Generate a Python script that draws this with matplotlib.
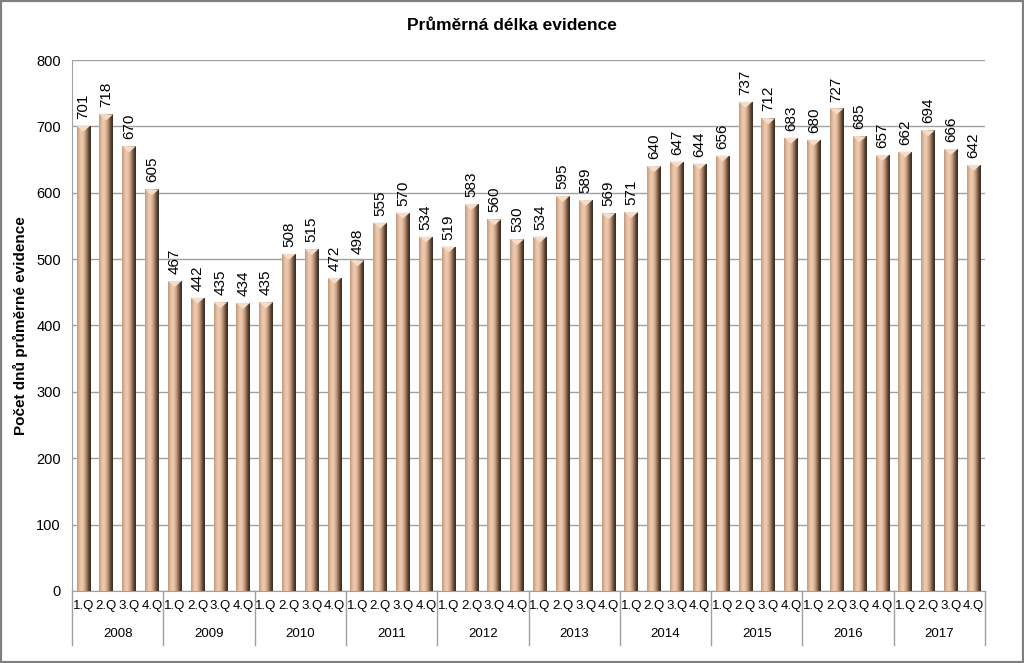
import numpy as np
import matplotlib
matplotlib.use('Agg')
import matplotlib.pyplot as plt
import matplotlib.transforms as mtransforms
from matplotlib.colors import LinearSegmentedColormap
from matplotlib.patches import Rectangle

plt.rcParams['font.family'] = ['Liberation Sans', 'DejaVu Sans']

years = ['2008', '2009', '2010', '2011', '2012', '2013', '2014', '2015', '2016', '2017']
quarters = ['1.Q', '2.Q', '3.Q', '4.Q']
values = [701, 718, 670, 605,
          467, 442, 435, 434,
          435, 508, 515, 472,
          498, 555, 570, 534,
          519, 583, 560, 530,
          534, 595, 589, 569,
          571, 640, 647, 644,
          656, 737, 712, 683,
          680, 727, 685, 657,
          662, 694, 666, 642]

title = 'Průměrná délka evidence'
ylabel = 'Počet dnů průměrné evidence'

fig = plt.figure(figsize=(10.24, 6.63), dpi=100)
ax = fig.add_axes([0.0703, 0.1086, 0.8917, 0.8009])

# cylinder-like shading across each bar
cyl = LinearSegmentedColormap.from_list(
    'cyl', ['#bf9a80', '#ddb497', '#efcdb3', '#e9c3a5', '#cfa587',
            '#9c7860', '#5a4536', '#35291f'])
grad = np.linspace(0, 1, 64).reshape(1, -1)

x = np.arange(len(values))
width = 0.6
bars = ax.bar(x, values, width=width, color='none', edgecolor='none', zorder=3)
for b in bars:
    x0, w, h = b.get_x(), b.get_width(), b.get_height()
    im = ax.imshow(grad, cmap=cyl, aspect='auto', extent=[x0, x0 + w, 0, h],
                   zorder=3, interpolation='bicubic')
    im.set_clip_path(b)
    # light cap on top
    ax.fill([x0, x0 + w, x0 + w * 0.5], [h, h, h - 9], color='#f4dcc8',
            edgecolor='none', zorder=4)

for xi, v in zip(x, values):
    ax.annotate(str(v), (xi, v), xytext=(0, 5), textcoords='offset points',
                rotation=90, ha='center', va='bottom', fontsize=11, zorder=5)

ax.set_xlim(-0.5, len(values) - 0.5)
ax.set_ylim(0, 800)
ax.set_yticks(range(0, 801, 100))
ax.tick_params(axis='y', length=0, labelsize=10.5, pad=8)
ax.set_xticks([])
ax.yaxis.grid(True, color='#a0a0a0', linewidth=1)
ax.set_axisbelow(True)
for s in ['top', 'right']:
    ax.spines[s].set_visible(False)
ax.spines['left'].set_color('#a0a0a0')
ax.spines['bottom'].set_color('#a0a0a0')

ax.set_ylabel(ylabel, fontsize=11, fontweight='bold', labelpad=6)

trans = mtransforms.blended_transform_factory(ax.transData, ax.transAxes)
for i, yr in enumerate(years):
    for j, q in enumerate(quarters):
        ax.text(i * 4 + j, -0.028, q, transform=trans, ha='center', va='center',
                fontsize=9.5)
    ax.text(i * 4 + 1.5, -0.081, yr, transform=trans, ha='center', va='center',
            fontsize=9.5)
for k in range(len(years) + 1):
    ax.plot([k * 4 - 0.5, k * 4 - 0.5], [0, -0.102], transform=trans,
            color='#a0a0a0', linewidth=1, clip_on=False)

fig.text(0.5, 0.962, title, ha='center', va='center', fontsize=12.5,
         fontweight='bold')

fig.patches.append(Rectangle((0, 0), 1, 1, transform=fig.transFigure,
                             fill=False, edgecolor='#7f7f7f', linewidth=3))

fig.savefig('out.png', dpi=100)
